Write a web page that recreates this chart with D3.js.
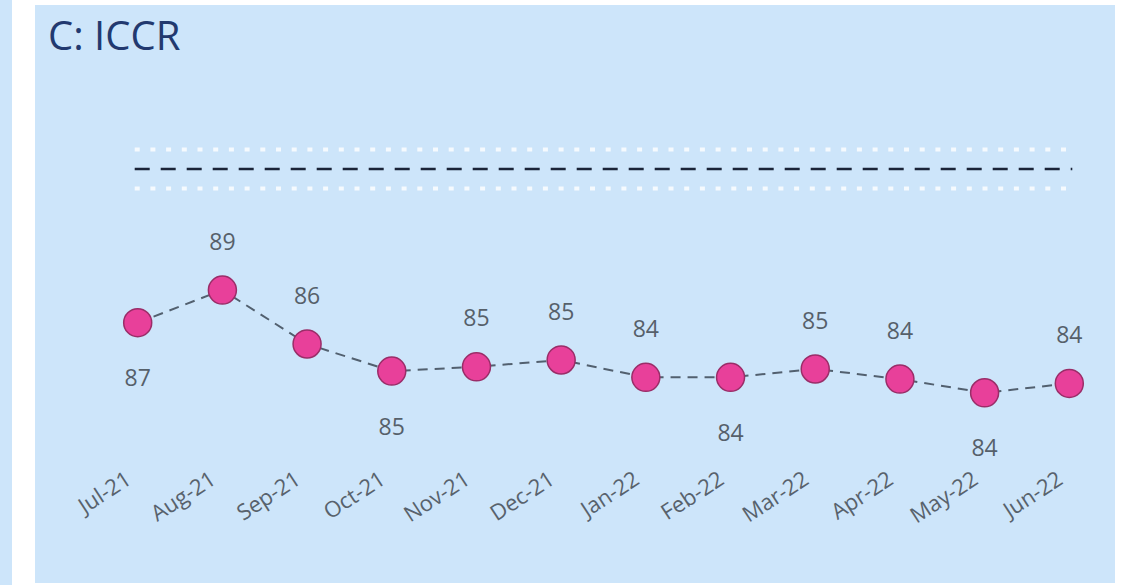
<!DOCTYPE html>
<html>
<head>
<meta charset="utf-8">
<script src="https://cdn.jsdelivr.net/npm/d3@7"></script>
<style>
  html, body { margin: 0; padding: 0; background: #ffffff; }
  svg { display: block; }
</style>
</head>
<body>
<svg id="chart" width="1122" height="585"></svg>
<script>
// ---- data ----
const title = "C: ICCR";
const months = ["Jul-21","Aug-21","Sep-21","Oct-21","Nov-21","Dec-21","Jan-22","Feb-22","Mar-22","Apr-22","May-22","Jun-22"];
const values = [87.13, 88.80, 86.04, 84.65, 84.87, 85.22, 84.33, 84.33, 84.76, 84.24, 83.54, 84.02];
const labelSide = ["below","above","above","below","above","above","above","below","above","above","below","above"];
const target = 95;
const targetBand = [94, 96];

// ---- layout ----
const W = 1122, H = 585;
const svg = d3.select("#chart");
const panelColor = "#cde5fa";
const font = "'Open Sans', 'Noto Sans', sans-serif";

// background panels
svg.append("rect").attr("x", 0).attr("y", 0).attr("width", 12).attr("height", H).attr("fill", panelColor);
svg.append("rect").attr("x", 35).attr("y", 5).attr("width", 1080).attr("height", 578).attr("fill", panelColor);

// title
svg.append("text")
  .attr("x", 48).attr("y", 50)
  .attr("font-family", font).attr("font-size", 40)
  .attr("fill", "#22396f")
  .text(title);

// scales
const x = d3.scalePoint().domain(months).range([137.7, 1069.3]);
const y = d3.scaleLinear().domain([80, 100]).range([461.9, 71.4]);

// target band (white dotted) and target line (dark dashed)
const x0 = x(months[0]) - 3, x1 = x(months[months.length - 1]) + 3;
targetBand.forEach(v => {
  svg.append("line")
    .attr("x1", x0).attr("x2", x1)
    .attr("y1", y(v)).attr("y2", y(v))
    .attr("stroke", "#ffffff").attr("stroke-opacity", 0.8)
    .attr("stroke-width", 4)
    .attr("stroke-dasharray", "5 10.7");
});
svg.append("line")
  .attr("x1", x0).attr("x2", x1)
  .attr("y1", y(target)).attr("y2", y(target))
  .attr("stroke", "#1b2438")
  .attr("stroke-width", 2.5)
  .attr("stroke-dasharray", "15 11");

// x axis labels (rotated)
const xAxis = d3.axisBottom(x).tickSize(0).tickPadding(0);
const gx = svg.append("g").call(xAxis);
gx.select(".domain").remove();
gx.selectAll(".tick").attr("transform", d => `translate(${x(d) - 5},483)`);
gx.selectAll(".tick text")
  .attr("font-family", font).attr("font-size", 22)
  .attr("fill", "#58626c")
  .attr("text-anchor", "end")
  .attr("x", 0).attr("y", 0).attr("dy", 0)
  .attr("transform", "rotate(-33)");

// connecting dashed line
const line = d3.line().x((d, i) => x(months[i])).y(d => y(d));
svg.append("path")
  .datum(values)
  .attr("d", line)
  .attr("fill", "none")
  .attr("stroke", "#52606f")
  .attr("stroke-width", 2)
  .attr("stroke-dasharray", "10 7");

// points
svg.append("g").selectAll("circle")
  .data(values)
  .join("circle")
  .attr("cx", (d, i) => x(months[i]))
  .attr("cy", d => y(d))
  .attr("r", 14)
  .attr("fill", "#e8409a")
  .attr("stroke", "#9a2d68")
  .attr("stroke-width", 1.5);

// value labels
svg.append("g").selectAll("text")
  .data(values)
  .join("text")
  .attr("x", (d, i) => x(months[i]))
  .attr("y", (d, i) => y(d) + (labelSide[i] === "above" ? -48.5 : 55.5))
  .attr("dy", "0.35em")
  .attr("text-anchor", "middle")
  .attr("font-family", font).attr("font-size", 23)
  .attr("fill", "#56606a")
  .text(d => d3.format(".0f")(d));
</script>
</body>
</html>
